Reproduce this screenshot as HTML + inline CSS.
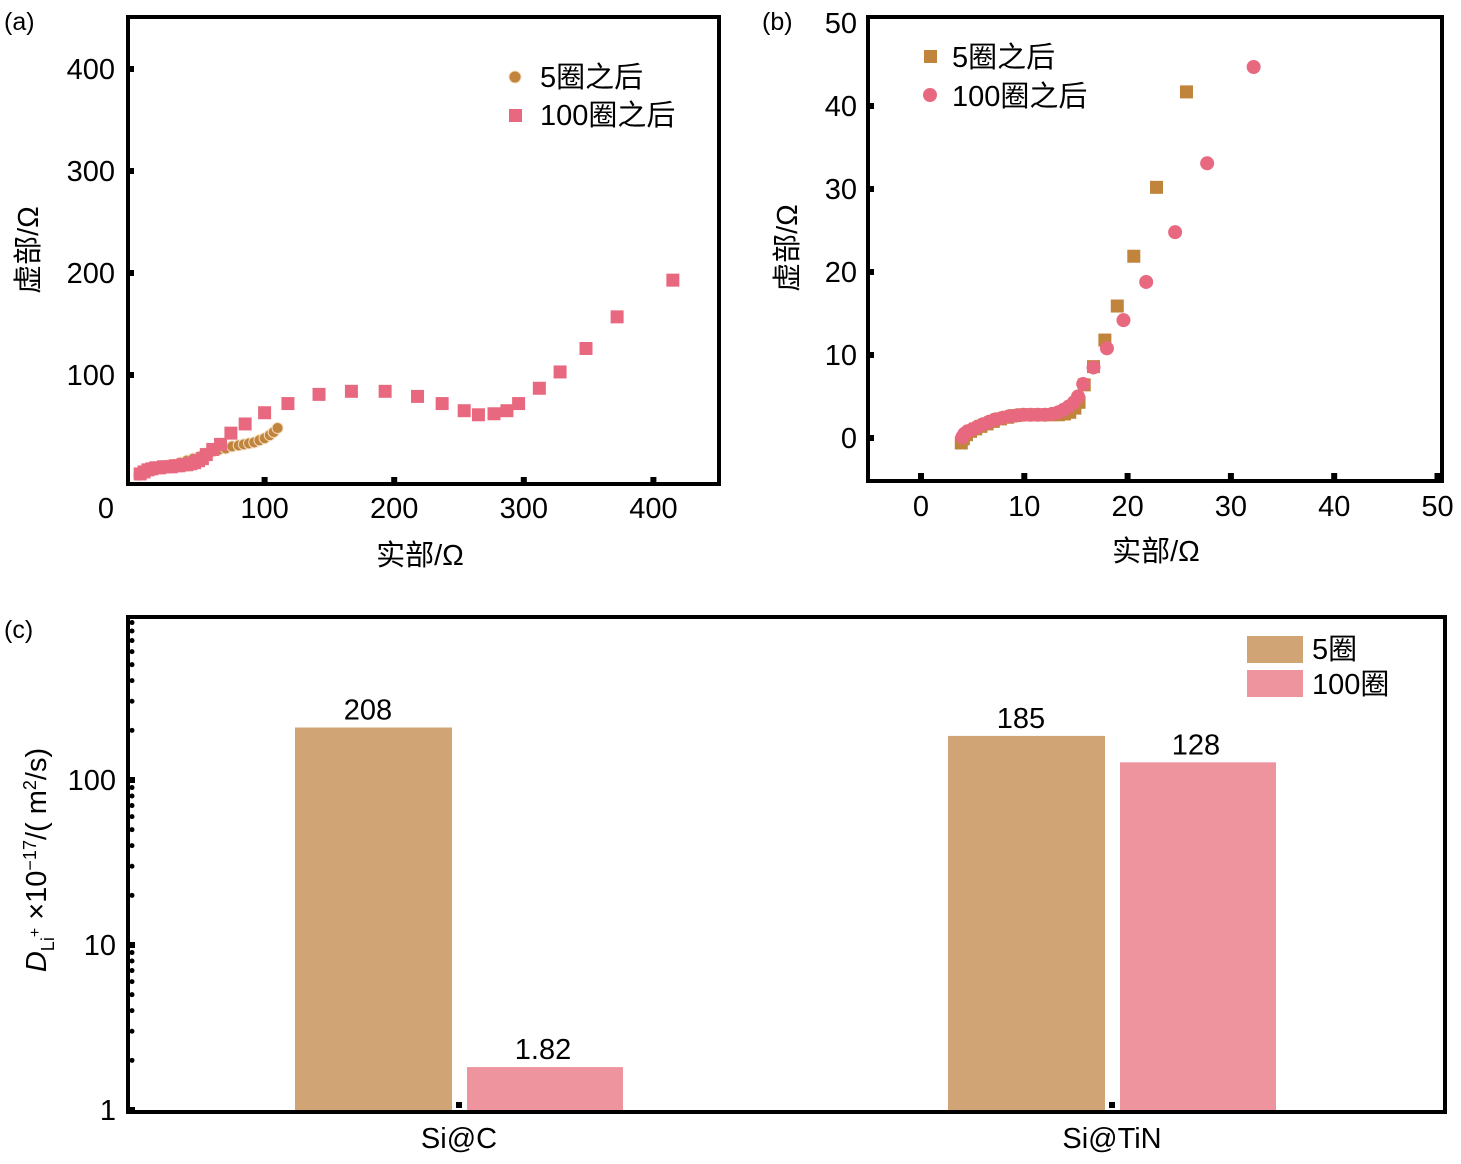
<!DOCTYPE html>
<html><head><meta charset="utf-8"><style>
body{margin:0;background:#fff;}
svg{display:block;font-family:"Liberation Sans","Noto Sans CJK SC",sans-serif;}
</style></head><body>
<svg id="fig" width="1461" height="1164" viewBox="0 0 1461 1164" xmlns="http://www.w3.org/2000/svg"></svg>
<script>
// ---------- Panel (a) data ----------
const aCyc5X = [3,6,9,13,17,21,25,30,35,40,45,50,55,60,65,70,75,80,84,88,92,96,100,104,107,110];
const aCyc5Y = [2,4,6,8,9,10,11,12,14,16,18,20,23,25,27,28,30,31,32,33,34,36,38,41,44,48];
const aCyc100X = [4,7,10,13,16,19,22,25,28,31,34,37,40,43,46,49,52,55,60,66,74,85,100,118,142,167,193,218,237,254,265,277,287,296,312,328,348,372,415];
const aCyc100Y = [3,5,7,8,9,9,10,10,10,11,11,12,12,13,14,16,18,22,27,32,43,52,63,72,81,84,84,79,72,65,61,62,65,72,87,103,126,157,193];
const aXTicks = [0,100,200,300,400];
const aYTicks = [100,200,300,400];
// ---------- Panel (b) data ----------
const b5X = [3.9,4.1,4.4,4.8,5.3,5.8,6.4,7.0,7.7,8.4,9.1,9.8,10.5,11.2,11.9,12.6,13.3,13.9,14.4,14.9,15.3,15.8,16.7,17.8,19.0,20.6,22.8,25.7];
const b5Y = [-0.6,-0.1,0.4,0.8,1.1,1.4,1.7,2.0,2.3,2.5,2.7,2.8,2.8,2.8,2.8,2.8,2.8,2.9,3.1,3.6,4.3,6.4,8.6,11.8,15.9,21.9,30.2,41.7];
const b100X = [4.0,4.2,4.5,4.9,5.4,5.9,6.5,7.1,7.8,8.5,9.2,9.9,10.6,11.3,12.0,12.7,13.3,13.8,14.3,14.8,15.2,15.7,16.7,18.0,19.6,21.8,24.6,27.7,32.2];
const b100Y = [0.1,0.5,0.8,1.0,1.3,1.6,1.9,2.2,2.4,2.6,2.7,2.8,2.8,2.8,2.8,2.9,3.1,3.4,3.8,4.3,5.0,6.5,8.5,10.8,14.2,18.8,24.8,33.1,44.7];
const bXTicks = [0,10,20,30,40,50];
const bYTicks = [0,10,20,30,40,50];
// ---------- Panel (c) data ----------
const cCategories = ["Si@C","Si@TiN"];
const cSeries5 = [208,185];
const cSeries100 = [1.82,128];
const cLabels5 = ["208","185"];
const cLabels100 = ["1.82","128"];
const cYTicks = [1,10,100];

const NS="http://www.w3.org/2000/svg";
const svg=document.getElementById('fig');
function el(tag,attrs,parent){const e=document.createElementNS(NS,tag);for(const k in attrs)e.setAttribute(k,attrs[k]);(parent||svg).appendChild(e);return e;}
function txt(s,attrs,parent){const e=el('text',attrs,parent);e.textContent=s;return e;}
const C5='#c0843c', CP='#e8697f', BAR5='#d0a474', BAR100='#ee949f';
const FS=29;

// ---- Panel (a) ----
const ax=v=>135+v*1.296, ay=v=>477-v*1.02;
const gA=el('g',{});


txt('(a)',{x:4,y:30,'font-size':25},gA);
aXTicks.forEach(t=>{if(t>0)el('rect',{x:ax(t)-3,y:477,width:6,height:6,fill:'#000'},gA);
 const l=txt(String(t),{x:t===0?106:ax(t),y:518,'font-size':FS,'text-anchor':'middle'},gA);
 });
aYTicks.forEach(t=>{el('rect',{x:128,y:ay(t)-3,width:6,height:6,fill:'#000'},gA);
 const l=txt(String(t),{x:115,y:ay(t)+10,'font-size':FS,'text-anchor':'end'},gA);
 });
aCyc5X.forEach((x,i)=>{const c=el('circle',{cx:ax(x),cy:ay(aCyc5Y[i]),r:5.5,fill:C5,stroke:'#f3dcc0','stroke-width':1},gA);
 });
aCyc100X.forEach((x,i)=>{const r=el('rect',{x:ax(x)-6.5,y:ay(aCyc100Y[i])-6.5,width:13,height:13,fill:CP},gA);
 });
el('rect',{x:128,y:17,width:591,height:467,fill:'none',stroke:'#000','stroke-width':4},gA);
el('circle',{cx:515,cy:77,r:6,fill:C5,stroke:'#f3dcc0'},gA);
el('rect',{x:509,y:109,width:13,height:13,fill:CP},gA);
txt('5圈之后',{x:540,y:87,'font-size':FS},gA);
txt('100圈之后',{x:540,y:125,'font-size':FS},gA);
txt('实部/Ω',{x:420,y:565,'font-size':FS,'text-anchor':'middle'},gA);
txt('虚部/Ω',{x:0,y:0,'font-size':FS,'text-anchor':'middle',transform:'translate(38,250) rotate(-90)'},gA);

// ---- Panel (b) ----
const bx=v=>921+v*10.33, by=v=>438-v*8.3;
const gB=el('g',{});


txt('(b)',{x:762,y:30,'font-size':25},gB);
bXTicks.forEach(t=>{el('rect',{x:bx(t)-3,y:473,width:6,height:6,fill:'#000'},gB);
 const l=txt(String(t),{x:bx(t),y:516,'font-size':FS,'text-anchor':'middle'},gB);
 });
bYTicks.forEach(t=>{if(t<50)el('rect',{x:868,y:by(t)-3,width:6,height:6,fill:'#000'},gB);
 const l=txt(String(t),{x:857,y:by(t)+10,'font-size':FS,'text-anchor':'end'},gB);
 });
b5X.forEach((x,i)=>{const r=el('rect',{x:bx(x)-6.5,y:by(b5Y[i])-6.5,width:13,height:13,fill:C5},gB);
 });
b100X.forEach((x,i)=>{const c=el('circle',{cx:bx(x),cy:by(b100Y[i]),r:7,fill:CP},gB);
 });
el('rect',{x:868,y:17,width:574,height:464,fill:'none',stroke:'#000','stroke-width':4},gB);
el('rect',{x:924,y:50,width:13,height:13,fill:C5},gB);
el('circle',{cx:930,cy:95,r:7,fill:CP},gB);
txt('5圈之后',{x:952,y:67,'font-size':FS},gB);
txt('100圈之后',{x:952,y:106,'font-size':FS},gB);
txt('实部/Ω',{x:1156,y:561,'font-size':FS,'text-anchor':'middle'},gB);
txt('虚部/Ω',{x:0,y:0,'font-size':FS,'text-anchor':'middle',transform:'translate(797,248) rotate(-90)'},gB);

// ---- Panel (c) ----
const cy=v=>1110-Math.log10(v)*165;
const cCenters=[459,1112];
const gC=el('g',{});


txt('(c)',{x:4,y:638,'font-size':25},gC);
cCategories.forEach((cat,i)=>{
 const c=cCenters[i];
 const b1=el('rect',{x:c-164,y:cy(cSeries5[i]),width:157,height:1110-cy(cSeries5[i]),fill:BAR5},gC);
 
 
 const b2=el('rect',{x:c+8,y:cy(cSeries100[i]),width:156,height:1110-cy(cSeries100[i]),fill:BAR100},gC);
 
 
 txt(cLabels5[i],{x:c-91,y:cy(cSeries5[i])-8,'font-size':FS,'text-anchor':'middle'},gC);
 txt(cLabels100[i],{x:c+84,y:cy(cSeries100[i])-8,'font-size':FS,'text-anchor':'middle'},gC);
 const l=txt(cat,{x:c,y:1148,'font-size':FS,'text-anchor':'middle'},gC);
 
 el('rect',{x:c-3,y:1102,width:6,height:6,fill:'#000'},gC);
});
cYTicks.forEach(t=>{el('rect',{x:128,y:cy(t)-3,width:7,height:6,fill:'#000'},gC);
 const l=txt(String(t),{x:116,y:cy(t)+10,'font-size':FS,'text-anchor':'end'},gC);
 });
for(let d=0;d<3;d++)for(let m=2;m<=9;m++){el('circle',{cx:132,cy:cy(Math.pow(10,d)*m),r:2.5,fill:'#000'},gC);}
el('rect',{x:128,y:617,width:1317,height:495,fill:'none',stroke:'#000','stroke-width':4},gC);
el('rect',{x:1247,y:636,width:56,height:27,fill:BAR5},gC);
el('rect',{x:1247,y:670,width:56,height:27,fill:BAR100},gC);
txt('5圈',{x:1312,y:659,'font-size':FS},gC);
txt('100圈',{x:1312,y:694,'font-size':FS},gC);
const yt=el('text',{x:0,y:0,'font-size':FS,'text-anchor':'middle',transform:'translate(46,860) rotate(-90)'},gC);

yt.innerHTML='<tspan font-style="italic">D</tspan><tspan font-size="18" dy="8">Li</tspan><tspan font-size="16" dy="-14">+</tspan><tspan dy="6"> ×10</tspan><tspan font-size="18" dy="-10">−17</tspan><tspan dy="10">/( m</tspan><tspan font-size="18" dy="-10">2</tspan><tspan dy="10">/s)</tspan>';
</script>
</body></html>
